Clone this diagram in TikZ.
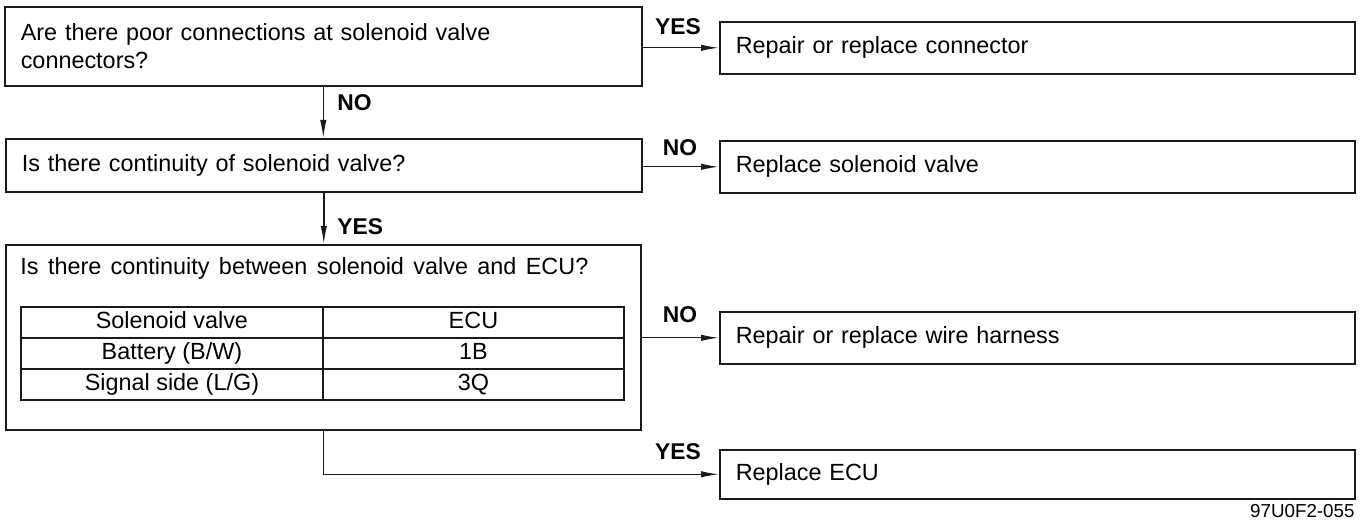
\documentclass[tikz,border=0pt]{standalone}
\usepackage{fontspec}
\setmainfont{Liberation Sans}
\usetikzlibrary{arrows.meta,positioning,matrix}
\definecolor{ink}{HTML}{1A1A1A}
\newcommand{\txt}{\fontsize{11.7}{12.2}\selectfont\spaceskip=0.39em plus 0.1em\relax}
\tikzset{
  box/.style={rectangle, draw=ink, fill=white, line width=0.8pt, anchor=north west,
              inner xsep=8pt, inner ysep=0pt, align=left, font=\txt},
  qbox/.style={box, minimum height=26.5pt},
  abox/.style={box, minimum width=317.5pt, text width=301.5pt, minimum height=26pt},
  cell/.style={rectangle, draw=ink, line width=0.8pt, minimum width=150.75pt, minimum height=15.5pt,
               text height=8.4pt, text depth=2.4pt, anchor=center,
               inner sep=0pt, outer sep=0pt, font=\fontsize{11.7}{12}\selectfont},
  lbl/.style={font=\fontsize{11.4}{12}\selectfont\bfseries, inner sep=0pt},
  flow/.style={-{Latex[length=9pt,width=3.2pt]}, draw=ink, line width=0.7pt},
}

\begin{document}
\begin{tikzpicture}[x=0.5pt, y=-0.5pt]
\useasboundingbox (0,0) rectangle (1360,523);
% questions on the left
\node[qbox, minimum width=318.5pt, text width=302.5pt, minimum height=39.5pt] (q1) at (4,6)
  {Are there poor connections at solenoid valve\\[1.5pt]connectors?};
\node[qbox, minimum width=318pt, text width=302pt] (q2) at (5,138)
  {Is there continuity of solenoid valve?};
\node[box, minimum width=317.5pt, minimum height=92.5pt] (q3) at (5,244) {};
\node[anchor=west, inner sep=0pt, font=\txt] (q3t) at (20,268)
  {\makebox[284pt][s]{Is there continuity between solenoid valve and ECU?}};
\matrix (tbl) [matrix of nodes, nodes={cell}, anchor=north west, inner sep=0pt,
  column sep=-0.8pt, row sep=-0.8pt] at (20,306) {
  Solenoid valve & ECU \\
  Battery (B/W) & 1B \\
  Signal side (L/G) & 3Q \\
};
% answers on the right
\node[abox] (a1) at (719,21) {Repair or replace connector};
\node[abox] (a2) at (719,140) {Replace solenoid valve};
\node[abox] (a3) at (719,311) {Repair or replace wire harness};
\node[abox, minimum height=24.5pt] (a4) at (719,449) {Replace ECU};
% connectors
\draw[flow] (q1.east |- a1.west) -- (a1.west);
\draw[flow] (q2.east |- a2.west) -- (a2.west);
\draw[flow] (q3.east |- a3.west) -- (a3.west);
\draw[flow] (q1.south) -- (q1.south |- q2.north);
\draw[flow] (q2.south) -- (q2.south |- q3.north);
\draw[flow] (q3.south) |- (a4.west);
\node[lbl] (y1) at (678,27) {YES};
\node[lbl, anchor=west] (n1) at (337,103) {NO};
\node[lbl] (n2) at (680,148) {NO};
\node[lbl, anchor=west] (y2) at (337,227) {YES};
\node[lbl] (n3) at (680,315) {NO};
\node[lbl] (y3) at (678,452) {YES};
\node[anchor=east, inner sep=0pt, font=\fontsize{9.4}{10}\selectfont] (fig) at (1355,511) {97U0F2-055};
\end{tikzpicture}
\end{document}
